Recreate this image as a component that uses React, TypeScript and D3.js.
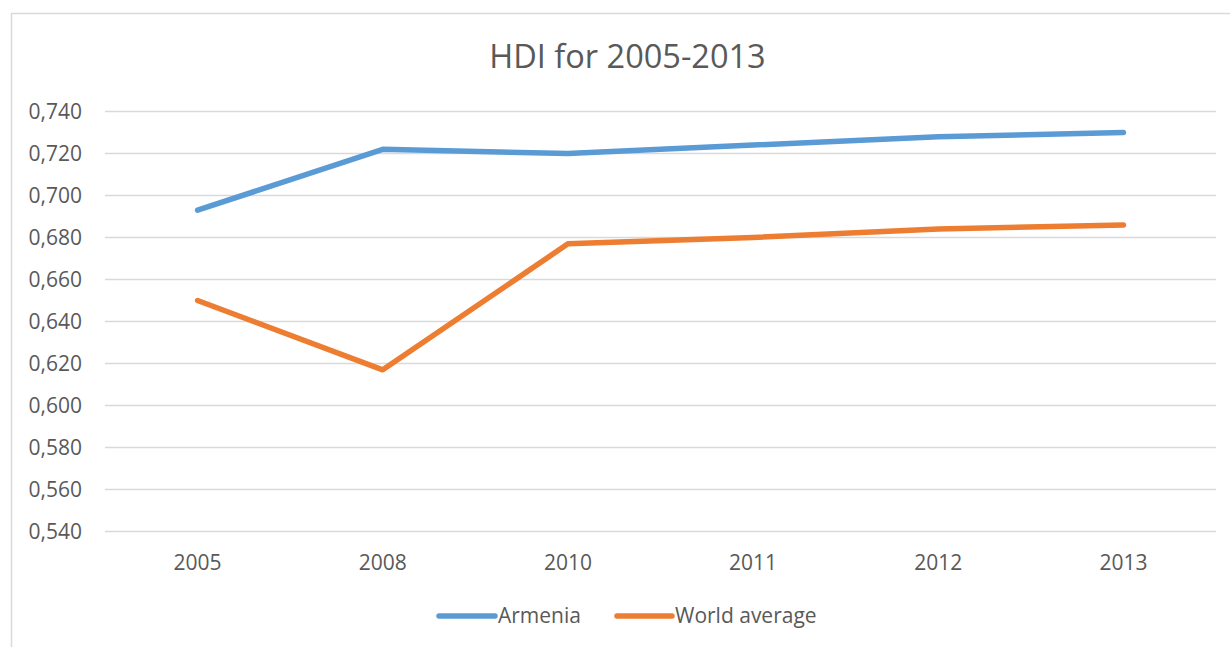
import React from "react";
import * as d3 from "d3";

// HDI values by year
const years = ["2005", "2008", "2010", "2011", "2012", "2013"];
const armenia = [0.693, 0.722, 0.72, 0.724, 0.728, 0.73];
const worldAverage = [0.65, 0.617, 0.677, 0.68, 0.684, 0.686];
const yTicks = [0.54, 0.56, 0.58, 0.6, 0.62, 0.64, 0.66, 0.68, 0.7, 0.72, 0.74];
const seriesNames = ["Armenia", "World average"];
const seriesColors = ["#5B9BD5", "#ED7D31"];

const W = 1230;
const H = 647;
const FONT = "'Open Sans', 'Noto Sans', sans-serif";
const TEXT = "#595959";
const GRID = "#D9D9D9";
const LABEL_SIZE = 21;

export default function App() {
  const x = d3.scalePoint<string>().domain(years).range([105, 1216]).padding(0.5);
  const y = d3.scaleLinear().domain([0.54, 0.74]).range([531.5, 111.5]);
  const fmt = (v: number) => d3.format(".3f")(v).replace(".", ",");

  const line = d3
    .line<number>()
    .x((_, i) => x(years[i]) as number)
    .y((d) => y(d));

  const series = [armenia, worldAverage];

  const legendItems = [
    { x0: 439, x1: 495 },
    { x0: 617, x1: 672 },
  ];

  return (
    <svg
      width={W}
      height={H}
      style={{ position: "absolute", left: 0, top: 0, background: "#fff" }}
      fontFamily={FONT}
    >
      {/* chart frame */}
      <rect x={11.5} y={13.5} width={W + 20} height={H + 20} fill="#fff" stroke={GRID} strokeWidth={1.5} />

      <text x={627.5} y={68} textAnchor="middle" fontSize={32.5} fill={TEXT}>
        HDI for 2005-2013
      </text>

      {/* horizontal gridlines and value labels */}
      {yTicks.map((t) => (
        <g key={t}>
          <line x1={105} x2={1216} y1={y(t)} y2={y(t)} stroke={GRID} strokeWidth={1.3} />
          <text x={82} y={y(t)} dy="0.35em" textAnchor="end" fontSize={LABEL_SIZE} fill={TEXT}>
            {fmt(t)}
          </text>
        </g>
      ))}

      {/* category labels */}
      {years.map((yr) => (
        <text key={yr} x={x(yr)} y={570} textAnchor="middle" fontSize={LABEL_SIZE} fill={TEXT}>
          {yr}
        </text>
      ))}

      {series.map((s, i) => (
        <path
          key={seriesNames[i]}
          d={line(s) || ""}
          fill="none"
          stroke={seriesColors[i]}
          strokeWidth={5.5}
          strokeLinecap="round"
          strokeLinejoin="round"
        />
      ))}

      {/* legend */}
      {seriesNames.map((name, i) => (
        <g key={name}>
          <line
            x1={legendItems[i].x0}
            x2={legendItems[i].x1}
            y1={616}
            y2={616}
            stroke={seriesColors[i]}
            strokeWidth={5.5}
            strokeLinecap="round"
          />
          <text x={legendItems[i].x1 + 3} y={623} fontSize={LABEL_SIZE} fill={TEXT}>
            {name}
          </text>
        </g>
      ))}
    </svg>
  );
}
